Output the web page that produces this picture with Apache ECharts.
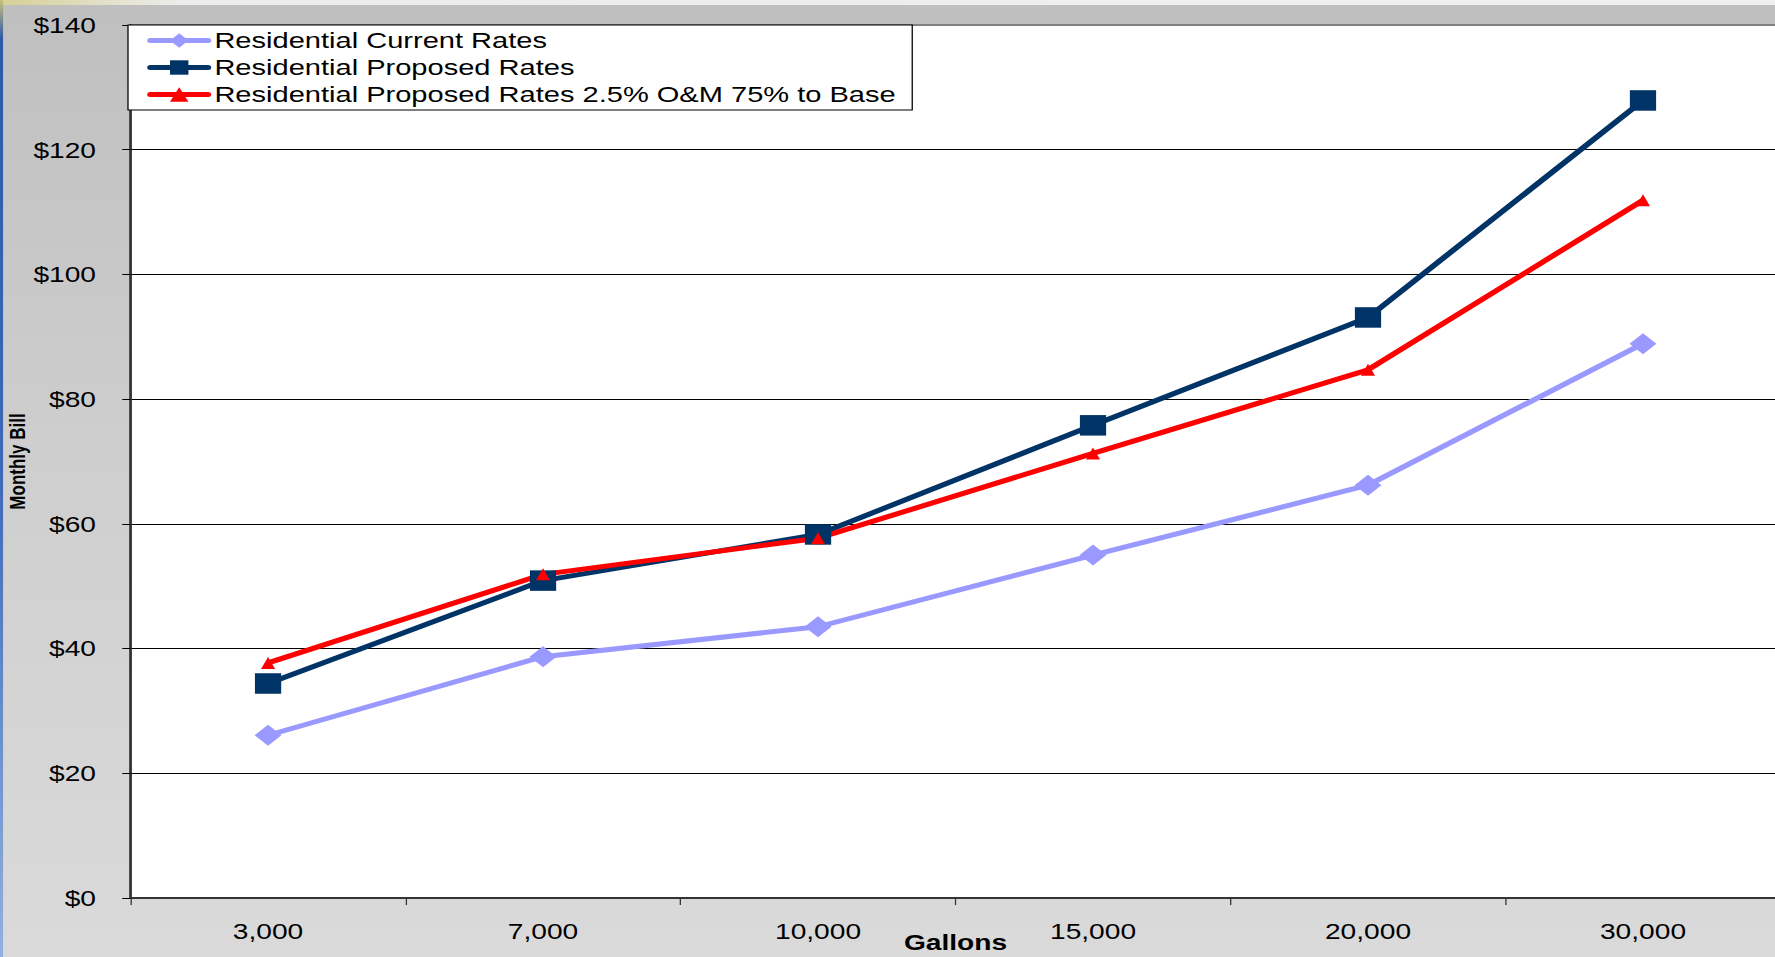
<!DOCTYPE html>
<html>
<head>
<meta charset="utf-8">
<title>Residential Monthly Bill</title>
<script src="https://cdn.jsdelivr.net/npm/echarts@6/dist/echarts.min.js"></script>
<style>
  html, body { margin: 0; padding: 0; overflow: hidden; background: #d0d0d0; }
  /* the slide chart is stretched sideways, so draw it narrow and widen it */
  #chart { width: 1387px; height: 957px; transform: scaleX(1.28); transform-origin: 0 0; }
</style>
</head>
<body>
<div id="chart"></div>
<script>
    var gallons = ['3,000', '7,000', '10,000', '15,000', '20,000', '30,000'];
    var currentRates = [26.1, 38.7, 43.5, 55.0, 66.2, 88.9];
    var proposedRates = [34.4, 50.9, 58.3, 75.8, 93.1, 127.9];
    var proposedAltRates = [37.7, 51.9, 57.7, 71.3, 84.7, 111.9];
    var seriesNames = [
        'Residential Current Rates',
        'Residential Proposed Rates',
        'Residential Proposed Rates 2.5% O&M 75% to Base'
    ];

    var font = "'Liberation Sans', Arial, sans-serif";
    var chart = echarts.init(document.getElementById('chart'), null, { renderer: 'svg' });

    chart.setOption({
        animation: false,
        backgroundColor: 'transparent',
        textStyle: { fontFamily: font },
        graphic: [
            {
                type: 'rect', z: -10, silent: true,
                shape: { x: 0, y: 0, width: 1387, height: 957 },
                style: { fill: new echarts.graphic.LinearGradient(0, 0, 0, 1, [
                    { offset: 0, color: '#bfbfbf' },
                    { offset: 0.5, color: '#cfcfcf' },
                    { offset: 1, color: '#dadada' }
                ]) }
            },
            {
                type: 'rect', z: -9, silent: true,
                shape: { x: 0, y: 0, width: 1387, height: 5 },
                style: { fill: new echarts.graphic.LinearGradient(0, 0, 1, 0, [
                    { offset: 0, color: '#d6cf95' },
                    { offset: 0.1, color: '#ececec' },
                    { offset: 1, color: '#f0f0f0' }
                ]) }
            },
            {
                type: 'rect', z: -9, silent: true,
                shape: { x: 0, y: 0, width: 2.4, height: 957 },
                style: { fill: new echarts.graphic.LinearGradient(0, 0, 0, 1, [
                    { offset: 0, color: '#c9c07a' },
                    { offset: 0.04, color: '#2f5aa8' },
                    { offset: 0.5, color: '#3d69b8' },
                    { offset: 1, color: '#93b1de' }
                ]) }
            }
        ],
        grid: {
            left: 102, top: 25, width: 1289, height: 873,
            outerBoundsMode: 'none',
            show: true,
            backgroundColor: '#ffffff',
            borderColor: '#808080',
            borderWidth: 2
        },
        legend: {
            orient: 'vertical',
            left: 100, top: 25,
            padding: [4, 13, 4, 15],
            itemWidth: 45, itemHeight: 18, itemGap: 4,
            backgroundColor: '#ffffff',
            borderColor: '#000000',
            borderWidth: 1,
            borderRadius: 0,
            selectedMode: false,
            lineStyle: { width: 5, cap: 'round' },
            textStyle: { fontSize: 22.7, color: '#000000', fontFamily: font },
            data: seriesNames
        },
        xAxis: {
            type: 'category',
            data: gallons,
            boundaryGap: true,
            name: 'Gallons',
            nameLocation: 'middle',
            nameGap: 33,
            nameMoveOverlap: false,
            nameTextStyle: { fontSize: 22, fontWeight: 'bold', color: '#000000', fontFamily: font },
            axisLine: { show: true, lineStyle: { color: '#333333', width: 2 } },
            axisTick: { show: true, length: 7, lineStyle: { color: '#333333', width: 1 } },
            axisLabel: { fontSize: 22, color: '#000000', margin: 22, interval: 0, fontFamily: font },
            splitLine: { show: false }
        },
        yAxis: {
            type: 'value',
            min: 0, max: 140, interval: 20,
            name: 'Monthly Bill',
            nameLocation: 'middle',
            nameGap: 80,
            nameMoveOverlap: false,
            nameTextStyle: { fontSize: 17, fontWeight: 'bold', color: '#000000', fontFamily: font },
            axisLine: { show: true, lineStyle: { color: '#333333', width: 2 } },
            axisTick: { show: true, length: 6.5, lineStyle: { color: '#000000', width: 1 } },
            axisLabel: {
                fontSize: 22, color: '#000000', margin: 27, fontFamily: font,
                formatter: function (v) { return '$' + v; }
            },
            splitLine: { show: true, showMinLine: false, showMaxLine: false, lineStyle: { color: '#000000', width: 1 } }
        },
        series: [
            {
                name: seriesNames[0], type: 'line', data: currentRates,
                symbol: 'diamond', symbolSize: 21,
                lineStyle: { width: 5, color: '#9999ff' },
                itemStyle: { color: '#9999ff' }
            },
            {
                name: seriesNames[1], type: 'line', data: proposedRates,
                symbol: 'rect', symbolSize: 20.5,
                lineStyle: { width: 5, color: '#003366' },
                itemStyle: { color: '#003366' }
            },
            {
                name: seriesNames[2], type: 'line', data: proposedAltRates,
                symbol: 'triangle', symbolSize: [11, 12],
                lineStyle: { width: 5, color: '#ff0000' },
                itemStyle: { color: '#ff0000' }
            }
        ]
    });
</script>
</body>
</html>
